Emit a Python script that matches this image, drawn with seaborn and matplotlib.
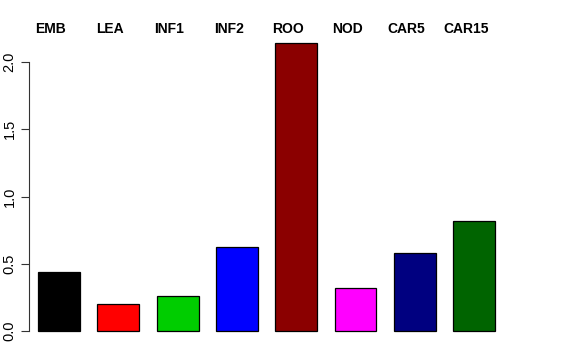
import matplotlib
matplotlib.use("Agg")
import matplotlib.pyplot as plt
import seaborn as sns
import pandas as pd

categories = ["EMB", "LEA", "INF1", "INF2", "ROO", "NOD", "CAR5", "CAR15"]
values = [0.437, 0.198, 0.262, 0.625, 2.141, 0.317, 0.580, 0.816]
colors = ["#000000", "#FF0000", "#00CD00", "#0000FF", "#8B0000", "#FF00FF", "#000080", "#006400"]
yticks = [0.0, 0.5, 1.0, 1.5, 2.0]

sns.set_theme(style="white")
plt.rcParams["font.family"] = ["Liberation Sans", "DejaVu Sans"]
plt.rcParams["text.color"] = "black"
plt.rcParams["ytick.color"] = "black"
plt.rcParams["ytick.labelcolor"] = "black"

df = pd.DataFrame({"cat": categories, "val": values})

fig = plt.figure(figsize=(5.76, 3.6), dpi=100)
ax = fig.add_axes([29 / 576, 1 - 342.5 / 360, (560 - 29) / 576, (342.5 - 31.5) / 360])

sns.barplot(data=df, x="cat", y="val", hue="cat", palette=colors, order=categories,
            hue_order=categories, width=0.708, edgecolor="black", linewidth=0.9,
            legend=False, ax=ax, saturation=1)

ax.set_xlim(-0.506, (560 - 59) / 59.3)
ax.set_ylim(-0.0856, 2.227)
ax.set_xlabel("")
ax.set_ylabel("")
ax.set_xticks([])
ax.set_yticks(yticks)
ax.set_yticklabels([f"{t:.1f}" for t in yticks], rotation=90, va="center", fontsize=10.5)
ax.tick_params(axis="y", left=True, length=6, width=0.8, color="#333333", pad=3,
               labelcolor="black")
for s in ["top", "right", "bottom"]:
    ax.spines[s].set_visible(False)
ax.spines["left"].set_bounds(0, 2.0)
ax.spines["left"].set_color("#333333")
ax.spines["left"].set_linewidth(0.8)

for i, c in enumerate(categories):
    ax.annotate(c, xy=(i - 0.14, 1 - 29 / 360), xycoords=("data", "figure fraction"),
                ha="center", va="center", fontsize=10, fontweight="bold", color="black")

fig.savefig("out.png", dpi=100)
